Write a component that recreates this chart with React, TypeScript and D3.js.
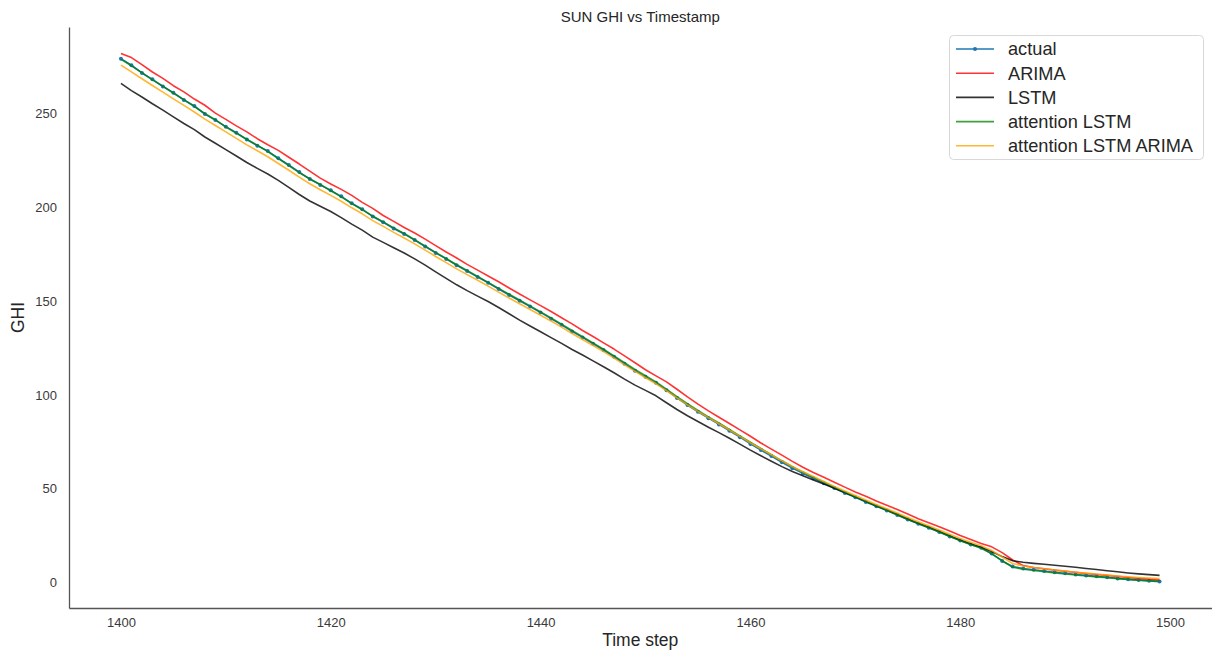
import React, { useEffect, useRef } from "react"
import * as d3 from "d3"

// Time steps 1400..1499
const timeSteps = d3.range(1400, 1500)

const actual = [
  279.0, 275.5, 271.4, 268.0, 264.2, 260.9, 257.0, 253.8, 249.5, 246.3,
  242.8, 239.6, 235.9, 232.7, 229.8, 226.0, 222.4, 218.6, 214.9, 211.8,
  208.9, 205.7, 202.0, 198.8, 195.0, 191.9, 188.6, 185.7, 182.4, 179.0,
  175.6, 172.4, 169.0, 165.9, 162.8, 159.7, 156.4, 153.2, 150.1, 147.0,
  143.9, 140.6, 137.3, 133.8, 130.6, 127.2, 123.9, 120.3, 116.6, 112.9,
  109.6, 106.4, 102.5, 98.4, 94.6, 91.0, 87.6, 84.3, 80.9, 77.5,
  73.9, 70.6, 67.4, 64.1, 61.0, 58.2, 55.6, 53.0, 50.4, 47.8,
  45.5, 43.0, 40.7, 38.5, 36.1, 33.6, 31.4, 29.3, 27.0, 24.6,
  22.5, 20.4, 18.6, 15.5, 11.6, 8.6, 7.6, 6.9, 6.2, 5.6,
  5.0, 4.4, 3.9, 3.4, 2.9, 2.3, 1.8, 1.4, 1.0, 0.6,
]

const arima = [
  281.8, 279.6, 275.8, 271.9, 268.5, 264.6, 261.3, 257.5, 254.2, 250.0,
  246.7, 243.2, 240.0, 236.4, 233.2, 230.2, 226.5, 222.9, 219.1, 215.4,
  212.3, 209.4, 206.2, 202.5, 199.3, 195.5, 192.4, 189.1, 186.2, 182.9,
  179.5, 176.1, 172.9, 169.5, 166.4, 163.3, 160.2, 156.9, 153.7, 150.6,
  147.5, 144.4, 141.1, 137.8, 134.3, 131.1, 127.7, 124.4, 120.8, 117.1,
  113.4, 110.1, 106.9, 103.0, 98.9, 95.1, 91.5, 88.1, 84.8, 81.4,
  78.0, 74.4, 71.1, 67.9, 64.6, 61.5, 58.7, 56.1, 53.5, 50.9,
  48.3, 46.0, 43.5, 41.2, 39.0, 36.6, 34.1, 31.9, 29.8, 27.5,
  25.1, 23.0, 20.9, 19.1, 16.0, 12.1, 9.1, 8.1, 7.4, 6.7,
  6.1, 5.5, 4.9, 4.4, 3.9, 3.4, 2.8, 2.3, 1.9, 1.5,
]

const lstm = [
  265.8, 262.0, 258.6, 255.0, 251.6, 248.0, 244.5, 241.2, 237.3, 234.0,
  230.6, 227.2, 223.7, 220.6, 217.6, 214.2, 210.5, 206.7, 203.2, 200.4,
  197.6, 194.4, 190.9, 187.7, 184.0, 181.2, 178.3, 175.5, 172.4, 169.1,
  165.5, 162.0, 158.6, 155.5, 152.6, 149.7, 146.5, 143.2, 139.8, 136.7,
  133.6, 130.5, 127.4, 124.2, 121.2, 118.1, 115.0, 111.8, 108.4, 105.2,
  102.4, 99.5, 95.8, 92.2, 88.9, 85.8, 82.8, 79.9, 76.9, 73.8,
  70.6, 67.6, 64.7, 61.8, 59.2, 56.9, 54.7, 52.6, 50.3, 48.0,
  45.7, 43.3, 41.0, 38.8, 36.5, 34.0, 31.7, 29.6, 27.4, 25.0,
  22.8, 20.8, 18.9, 16.6, 13.9, 11.7, 10.9, 10.3, 9.8, 9.3,
  8.8, 8.2, 7.6, 7.0, 6.4, 5.8, 5.2, 4.7, 4.3, 3.9,
]

const attentionLstm = [
  278.6, 275.2, 271.6, 267.7, 264.4, 260.6, 257.2, 253.5, 249.8, 246.5,
  242.6, 239.3, 236.1, 232.9, 229.5, 225.8, 222.1, 218.3, 215.1, 212.0,
  208.7, 205.4, 201.8, 198.6, 195.2, 192.1, 188.9, 185.9, 182.6, 179.2,
  175.9, 172.6, 169.3, 166.2, 163.1, 159.9, 156.7, 153.6, 150.5, 147.4,
  144.2, 141.0, 137.7, 134.3, 131.0, 127.7, 124.3, 120.8, 117.2, 113.6,
  110.2, 106.9, 103.1, 99.1, 95.3, 91.7, 88.3, 85.0, 81.6, 78.2,
  74.8, 71.5, 68.2, 64.9, 61.8, 58.9, 56.2, 53.6, 50.9, 48.3,
  45.8, 43.3, 41.0, 38.6, 36.2, 33.7, 31.5, 29.3, 27.0, 24.7,
  22.4, 20.3, 18.3, 15.4, 11.7, 8.2, 7.2, 6.5, 5.8, 5.2,
  4.6, 4.1, 3.6, 3.1, 2.7, 2.2, 1.8, 1.4, 1.1, 0.9,
]

const attentionLstmArima = [
  275.6, 272.0, 268.3, 264.7, 261.2, 257.6, 254.1, 250.6, 246.8, 243.4,
  240.0, 236.6, 233.1, 230.0, 226.8, 223.2, 219.6, 215.9, 212.4, 209.2,
  206.2, 203.1, 199.6, 196.4, 192.8, 189.7, 186.5, 183.5, 180.4, 177.1,
  173.7, 170.4, 167.1, 164.0, 161.0, 157.9, 154.7, 151.6, 148.5, 145.5,
  142.4, 139.3, 136.1, 132.7, 129.5, 126.3, 123.0, 119.6, 116.0, 112.5,
  109.1, 105.9, 102.3, 98.4, 94.7, 91.2, 87.9, 84.6, 81.3, 77.9,
  74.5, 71.3, 68.1, 64.9, 61.9, 59.1, 56.5, 53.9, 51.3, 48.8,
  46.4, 44.0, 41.7, 39.4, 37.1, 34.7, 32.4, 30.3, 28.1, 25.8,
  23.6, 21.6, 19.7, 17.2, 13.7, 10.2, 8.9, 8.1, 7.4, 6.8,
  6.2, 5.6, 5.1, 4.6, 4.1, 3.6, 3.2, 2.8, 2.5, 2.2,
]

const xTicks = [1400, 1420, 1440, 1460, 1480, 1500]
const yTicks = [0, 50, 100, 150, 200, 250]

const series = [
  { name: "actual", values: actual, color: "#1f77b4", opacity: 1, markers: true },
  { name: "ARIMA", values: arima, color: "red", opacity: 0.8, markers: false },
  { name: "LSTM", values: lstm, color: "black", opacity: 0.8, markers: false },
  { name: "attention LSTM", values: attentionLstm, color: "green", opacity: 0.75, markers: false },
  { name: "attention LSTM ARIMA", values: attentionLstmArima, color: "orange", opacity: 0.8, markers: false },
]

const FONT = "Arial, 'Liberation Sans', Helvetica, sans-serif"

const App = () => {
  const ref = useRef<HTMLDivElement>(null)

  useEffect(() => {
    document.body.style.margin = "0"

    const width = 1213
    const height = 652
    const margins = { top: 27, right: 1.5, bottom: 44, left: 69 }
    const boundedWidth = width - margins.left - margins.right
    const boundedHeight = height - margins.top - margins.bottom

    d3.select(ref.current).selectAll("*").remove()

    const wrapper = d3.select(ref.current)
      .append("svg")
      .attr("width", width)
      .attr("height", height)
      .style("display", "block")
      .style("font-family", FONT)

    wrapper.append("rect")
      .attr("width", width)
      .attr("height", height)
      .attr("fill", "white")

    const bounds = wrapper.append("g")
      .attr("transform", `translate(${margins.left},${margins.top})`)

    // Scales, matplotlib style 5% padding
    const allValues = series.flatMap(s => s.values)
    const [yMin, yMax] = d3.extent(allValues) as [number, number]
    const yPad = (yMax - yMin) * 0.05
    const xPad = (1499 - 1400) * 0.05

    const xScale = d3.scaleLinear()
      .domain([1400 - xPad, 1499 + xPad])
      .range([0, boundedWidth])

    const yScale = d3.scaleLinear()
      .domain([yMin - yPad, yMax + yPad])
      .range([boundedHeight, 0])

    // Axes (no tick marks, seaborn white)
    const xAxis = bounds.append("g")
      .attr("transform", `translate(0,${boundedHeight})`)
      .call(d3.axisBottom(xScale).tickValues(xTicks).tickSize(0).tickPadding(10).tickFormat(d3.format("d")))
    xAxis.select(".domain").attr("stroke", "#555").attr("stroke-width", 1.3)
    xAxis.selectAll("text")
      .attr("fill", "#3a3a3a")
      .style("font-size", "13px")
      .style("font-family", FONT)

    const yAxis = bounds.append("g")
      .call(d3.axisLeft(yScale).tickValues(yTicks).tickSize(0).tickPadding(12))
    yAxis.select(".domain").attr("stroke", "#555").attr("stroke-width", 1.3)
    yAxis.selectAll("text")
      .attr("fill", "#3a3a3a")
      .style("font-size", "13px")
      .style("font-family", FONT)

    // Lines
    const lineGenerator = d3.line<number>()
      .x((d, i) => xScale(timeSteps[i]))
      .y(d => yScale(d))

    series.forEach(s => {
      bounds.append("path")
        .datum(s.values)
        .attr("d", lineGenerator)
        .attr("fill", "none")
        .attr("stroke", s.color)
        .attr("stroke-opacity", s.opacity)
        .attr("stroke-width", 1.6)
        .attr("stroke-linejoin", "round")

      if (s.markers) {
        bounds.append("g")
          .selectAll("circle")
          .data(s.values)
          .join("circle")
          .attr("cx", (d, i) => xScale(timeSteps[i]))
          .attr("cy", d => yScale(d))
          .attr("r", 2)
          .attr("fill", s.color)
      }
    })

    // Title and labels
    wrapper.append("text")
      .attr("x", margins.left + boundedWidth / 2)
      .attr("y", 22)
      .attr("text-anchor", "middle")
      .attr("fill", "#262626")
      .style("font-size", "15px")
      .text("SUN GHI vs Timestamp")

    wrapper.append("text")
      .attr("x", margins.left + boundedWidth / 2)
      .attr("y", 646)
      .attr("text-anchor", "middle")
      .attr("fill", "#262626")
      .style("font-size", "17.5px")
      .text("Time step")

    wrapper.append("text")
      .attr("transform", `translate(24,${margins.top + boundedHeight / 2}) rotate(-90)`)
      .attr("text-anchor", "middle")
      .attr("fill", "#262626")
      .style("font-size", "17.5px")
      .text("GHI")

    // Legend
    const legend = wrapper.append("g")
      .attr("transform", "translate(949,35)")

    legend.append("rect")
      .attr("x", 0.5)
      .attr("y", 0.5)
      .attr("width", 254)
      .attr("height", 124)
      .attr("rx", 4)
      .attr("fill", "white")
      .attr("fill-opacity", 0.8)
      .attr("stroke", "#d8d8d8")

    const rows = legend.selectAll("g.row")
      .data(series)
      .join("g")
      .attr("class", "row")
      .attr("transform", (d, i) => `translate(0,${14 + i * 24.2})`)

    rows.append("line")
      .attr("x1", 7)
      .attr("x2", 45)
      .attr("stroke", d => d.color)
      .attr("stroke-opacity", d => d.opacity)
      .attr("stroke-width", 1.6)

    rows.filter(d => d.markers)
      .append("circle")
      .attr("cx", 26)
      .attr("r", 2)
      .attr("fill", d => d.color)

    rows.append("text")
      .attr("x", 59)
      .attr("dy", "0.35em")
      .attr("fill", "#262626")
      .style("font-size", "18.2px")
      .text(d => d.name)
  }, [])

  return <div ref={ref}></div>
}

export default App
